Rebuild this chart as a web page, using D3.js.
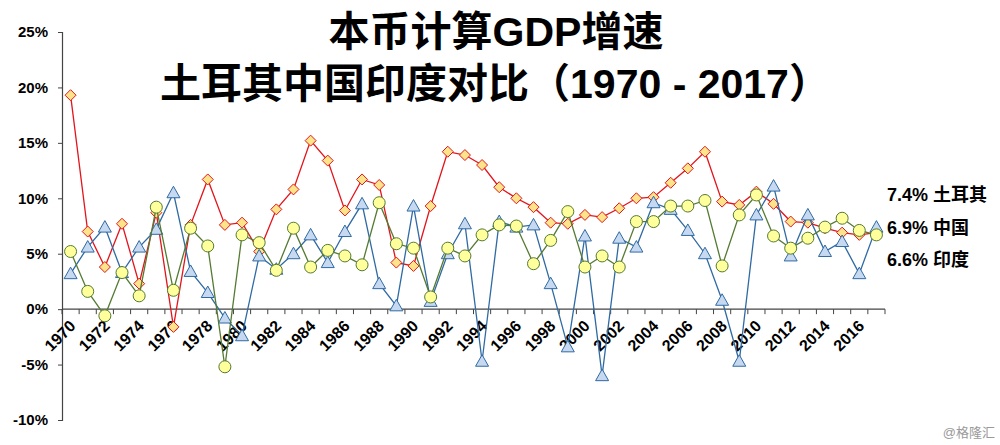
<!DOCTYPE html>
<html>
<head>
<meta charset="utf-8">
<script src="https://cdn.jsdelivr.net/npm/d3@7"></script>
<style>
  body { margin: 0; background: #fff; }
  svg { display: block; font-family: "Liberation Sans", Arial, "Noto Sans CJK SC", sans-serif; }
</style>
</head>
<body>
<div id="container"></div>
<script>
// data
const years = d3.range(1970, 2018);
const china = [19.3, 7.0, 3.8, 7.7, 2.3, 8.7, -1.6, 7.6, 11.7, 7.6, 7.8, 5.2, 9.0, 10.8, 15.2, 13.4, 8.9, 11.7, 11.2, 4.2,
               3.9, 9.3, 14.2, 13.9, 13.0, 11.0, 10.0, 9.2, 7.8, 7.7, 8.5, 8.3, 9.1, 10.0, 10.1, 11.4, 12.7, 14.2, 9.7, 9.4,
               10.6, 9.5, 7.9, 7.8, 7.3, 6.9, 6.7, 6.9];
const turkey = [3.2, 5.6, 7.4, 3.3, 5.6, 7.2, 10.5, 3.4, 1.5, -0.8, -2.4, 4.8, 3.6, 5.0, 6.7, 4.2, 7.0, 9.5, 2.3, 0.3,
                9.3, 0.7, 5.0, 7.7, -4.7, 7.9, 7.4, 7.6, 2.3, -3.4, 6.6, -6.0, 6.4, 5.6, 9.6, 9.0, 7.1, 5.0, 0.8, -4.7,
                8.5, 11.1, 4.8, 8.5, 5.2, 6.1, 3.2, 7.4];
const india = [5.2, 1.6, -0.6, 3.3, 1.2, 9.2, 1.7, 7.3, 5.7, -5.2, 6.7, 6.0, 3.5, 7.3, 3.8, 5.3, 4.8, 4.0, 9.6, 5.9,
               5.5, 1.1, 5.5, 4.8, 6.7, 7.6, 7.5, 4.1, 6.2, 8.8, 3.8, 4.8, 3.8, 7.9, 7.9, 9.3, 9.3, 9.8, 3.9, 8.5,
               10.3, 6.6, 5.5, 6.4, 7.4, 8.2, 7.1, 6.7];
const yTicks = [-10, -5, 0, 5, 10, 15, 20, 25];
const xLabels = years.filter(y => y % 2 === 0 && y <= 2016);
const sideLabels = ["7.4% 土耳其", "6.9% 中国", "6.6% 印度"];

// dimensions
const w = 1000;
const h = 445;
const plotLeft = 62, plotRight = 885, plotTop = 32, plotBottom = 420;

const xScale = d3.scaleBand().domain(years).range([plotLeft, plotRight]).padding(0);
const yScale = d3.scaleLinear().domain([-10, 25]).range([plotBottom, plotTop]);
const cx = (d, i) => xScale(years[i]) + xScale.bandwidth() / 2;

const svg = d3.select("#container").append("svg")
  .attr("width", w)
  .attr("height", h);

// title
const title = svg.append("text")
  .attr("text-anchor", "middle")
  .attr("font-weight", "bold")
  .attr("font-size", "41px")
  .attr("fill", "#000");
title.append("tspan").attr("x", 496).attr("y", 46).text("本币计算GDP增速");
title.append("tspan").attr("x", 495).attr("y", 98).text("土耳其中国印度对比（1970 - 2017）");

// y axis
const yAxis = d3.axisLeft(yScale)
  .tickValues(yTicks)
  .tickSize(4)
  .tickPadding(10)
  .tickFormat(d => d + "%");

const gy = svg.append("g")
  .attr("transform", "translate(" + plotLeft + ",0)")
  .call(yAxis);
gy.select(".domain").attr("stroke", "#444").attr("stroke-width", 1.2);
gy.selectAll(".tick line").attr("stroke", "#444");
gy.selectAll("text")
  .attr("font-size", "15px")
  .attr("font-weight", "bold")
  .attr("fill", "#000")
  .attr("font-family", "Liberation Sans, Arial, sans-serif");

// x axis at zero
const x0 = yScale(0);
svg.append("line")
  .attr("x1", plotLeft).attr("x2", plotRight)
  .attr("y1", x0).attr("y2", x0)
  .attr("stroke", "#444").attr("stroke-width", 1.2);

svg.selectAll(".xtick")
  .data(years.concat([null]))
  .enter().append("line")
  .attr("class", "xtick")
  .attr("x1", d => d === null ? plotRight : xScale(d))
  .attr("x2", d => d === null ? plotRight : xScale(d))
  .attr("y1", x0).attr("y2", x0 + 5)
  .attr("stroke", "#444");

// rotated year labels
svg.selectAll(".xlabel")
  .data(xLabels)
  .enter().append("text")
  .attr("class", "xlabel")
  .attr("transform", d => "translate(" + (xScale(d) + xScale.bandwidth() / 2 - 2) + "," + (x0 + 10) + ") rotate(-45)")
  .attr("text-anchor", "end")
  .attr("dy", "0.7em")
  .attr("font-size", "16px")
  .attr("font-weight", "bold")
  .attr("fill", "#000")
  .text(d => d);

// series
const line = d3.line()
  .x(cx)
  .y(d => yScale(d));

function drawSeries(data, lineColor) {
  svg.append("path")
    .datum(data)
    .attr("fill", "none")
    .attr("stroke", lineColor)
    .attr("stroke-width", 1.3)
    .attr("d", line);
}

// china - red diamonds
drawSeries(china, "#e3141b");
svg.append("g").selectAll("path")
  .data(china)
  .enter().append("path")
  .attr("transform", (d, i) => "translate(" + cx(d, i) + "," + yScale(d) + ")")
  .attr("d", "M0,-5.5L5.5,0L0,5.5L-5.5,0Z")
  .attr("fill", "#fde48a")
  .attr("stroke", "#e3141b")
  .attr("stroke-width", 1);

// turkey - blue triangles
drawSeries(turkey, "#2f6aa3");
svg.append("g").selectAll("path")
  .data(turkey)
  .enter().append("path")
  .attr("transform", (d, i) => "translate(" + cx(d, i) + "," + yScale(d) + ")")
  .attr("d", "M0,-6.5L6.5,5L-6.5,5Z")
  .attr("fill", "#c6d9f0")
  .attr("stroke", "#2f6aa3")
  .attr("stroke-width", 1);

// india - green circles
drawSeries(india, "#557a32");
svg.append("g").selectAll("circle")
  .data(india)
  .enter().append("circle")
  .attr("cx", cx)
  .attr("cy", d => yScale(d))
  .attr("r", 6)
  .attr("fill", "#ffff9c")
  .attr("stroke", "#557a32")
  .attr("stroke-width", 1);

// right side labels
sideLabels.forEach(function(t, i) {
  svg.append("text")
    .attr("x", 887)
    .attr("y", 201 + i * 32.5)
    .attr("font-size", "18px")
    .attr("font-weight", "bold")
    .attr("fill", "#000")
    .text(t);
});

// watermark
svg.append("text")
  .attr("x", 995)
  .attr("y", 437)
  .attr("text-anchor", "end")
  .attr("font-size", "13px")
  .attr("fill", "#9a9a9a")
  .text("@格隆汇");
</script>
</body>
</html>
